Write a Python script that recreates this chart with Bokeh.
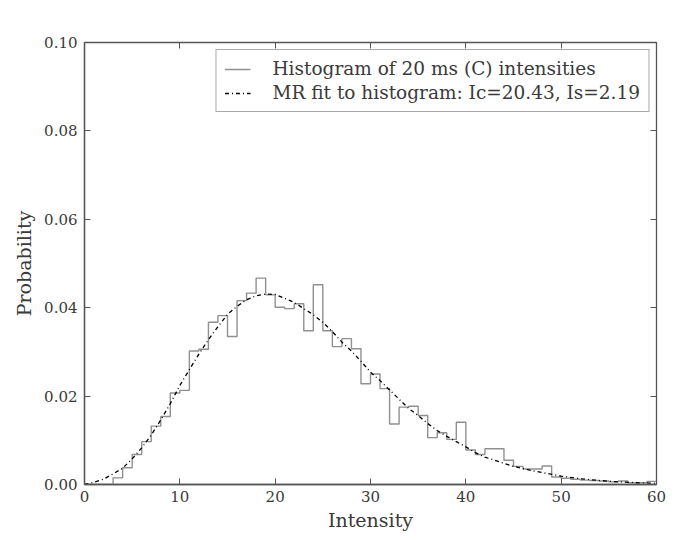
from bokeh.plotting import figure
from bokeh.models import (Range1d, LinearAxis, FixedTicker, NumeralTickFormatter,
                          Legend, LegendItem)
from bokeh.embed import file_html
from bokeh.resources import INLINE

# ---- data ----
bin_edges = list(range(0, 61))
hist_values = [0.0000, 0.0000, 0.0000, 0.0015, 0.0038, 0.0068, 0.0097, 0.0132, 0.0154, 0.0207,
               0.0213, 0.0302, 0.0306, 0.0367, 0.0382, 0.0335, 0.0416, 0.0433, 0.0467, 0.0429,
               0.0401, 0.0398, 0.0409, 0.0348, 0.0452, 0.0348, 0.0312, 0.0330, 0.0307, 0.0228,
               0.0250, 0.0217, 0.0137, 0.0175, 0.0177, 0.0156, 0.0106, 0.0117, 0.0102, 0.0141,
               0.0078, 0.0068, 0.0081, 0.0081, 0.0055, 0.0041, 0.0035, 0.0035, 0.0042, 0.0017,
               0.0014, 0.0012, 0.0010, 0.0009, 0.0008, 0.0006, 0.0008, 0.0004, 0.0004, 0.0007]

fit_x = [0, 1, 2, 3, 4, 5, 6, 7, 8, 9, 10, 11, 12, 13, 14, 15, 16, 17, 18, 19, 20,
         21, 22, 23, 24, 25, 26, 27, 28, 29, 30, 31, 32, 33, 34, 35, 36, 37, 38, 39, 40,
         41, 42, 43, 44, 45, 46, 47, 48, 49, 50, 52, 54, 56, 58, 60]
fit_y = [0.0000, 0.0005, 0.0012, 0.0024, 0.0037, 0.0058, 0.0083, 0.0112, 0.0146, 0.0183, 0.0224,
         0.0260, 0.0295, 0.0328, 0.0357, 0.0385, 0.0403, 0.0418, 0.0427, 0.0431, 0.0430,
         0.0421, 0.0412, 0.0398, 0.0384, 0.0367, 0.0346, 0.0322, 0.0302, 0.0279, 0.0254,
         0.0235, 0.0214, 0.0193, 0.0172, 0.0156, 0.0138, 0.0122, 0.0109, 0.0097, 0.0085,
         0.0072, 0.0062, 0.0055, 0.0048, 0.0041, 0.0036, 0.0031, 0.0027, 0.0023, 0.0019,
         0.0013, 0.0009, 0.0006, 0.0004, 0.0003]

x_ticks = [0, 10, 20, 30, 40, 50, 60]
y_ticks = [0.00, 0.02, 0.04, 0.06, 0.08, 0.10]
hist_label = "Histogram of 20 ms (C) intensities"
fit_label = "MR fit to histogram: Ic=20.43, Is=2.19"

FONT = "DejaVu Serif"
TXT = "#3a3a3a"
FRAME = "#555555"

p = figure(width=692, height=541, output_backend="svg", toolbar_location=None,
           x_range=Range1d(0, 60), y_range=Range1d(0, 0.10),
           min_border_left=84, min_border_right=36, min_border_top=42, min_border_bottom=57)
p.xgrid.visible = False
p.ygrid.visible = False
p.outline_line_color = FRAME
p.outline_line_width = 1.3
p.background_fill_color = "white"
p.border_fill_color = "white"

# histogram step outline
step_y = hist_values + [hist_values[-1]]
r_hist = p.step(x=bin_edges, y=step_y, mode="after", line_color="#909090", line_width=1.4)

# fit line
r_fit = p.line(x=fit_x, y=fit_y, line_color="black", line_width=1.3, line_dash="4 3 1 3")

for ax in p.xaxis:
    ax.ticker = FixedTicker(ticks=x_ticks)
for ax in p.yaxis:
    ax.ticker = FixedTicker(ticks=y_ticks)
    ax.formatter = NumeralTickFormatter(format="0.00")

for ax in list(p.xaxis) + list(p.yaxis):
    ax.axis_line_color = FRAME
    ax.axis_line_width = 1.3
    ax.major_tick_in = 6
    ax.major_tick_out = 0
    ax.major_tick_line_color = FRAME
    ax.minor_tick_line_color = None
    ax.major_label_text_font = FONT
    ax.major_label_text_font_size = "15px"
    ax.major_label_text_color = TXT
    ax.axis_label_text_font = FONT
    ax.axis_label_text_font_size = "19px"
    ax.axis_label_text_font_style = "normal"
    ax.axis_label_text_color = TXT

p.xaxis.axis_label = "Intensity"
p.yaxis.axis_label = "Probability"
p.xaxis.major_label_standoff = 6
p.yaxis.major_label_standoff = 7
p.xaxis.axis_label_standoff = 4
p.yaxis.axis_label_standoff = 6

top = LinearAxis(ticker=FixedTicker(ticks=x_ticks), major_label_text_font_size="1px",
                 major_label_text_color=None, major_label_standoff=0,
                 major_tick_in=6, major_tick_out=0, minor_tick_line_color=None,
                 axis_line_color=None, major_tick_line_color=FRAME)
right = LinearAxis(ticker=FixedTicker(ticks=y_ticks), major_label_text_font_size="1px",
                   major_label_text_color=None, major_label_standoff=0,
                   major_tick_in=6, major_tick_out=0, minor_tick_line_color=None,
                   axis_line_color=None, major_tick_line_color=FRAME)
p.add_layout(top, "above")
p.add_layout(right, "right")

legend = Legend(items=[LegendItem(label=hist_label, renderers=[r_hist]),
                       LegendItem(label=fit_label, renderers=[r_fit])],
                location="top_right")
legend.label_text_font = FONT
legend.label_text_font_size = "18.5px"
legend.label_text_color = TXT
legend.border_line_color = FRAME
legend.border_line_width = 1.2
legend.background_fill_color = "white"
legend.background_fill_alpha = 1.0
legend.glyph_width = 26
legend.glyph_height = 16
legend.label_height = 16
legend.label_standoff = 22
legend.padding = 8
legend.spacing = 3
legend.margin = 7
p.add_layout(legend, "center")

open("out.html", "w").write(file_html(p, INLINE))
